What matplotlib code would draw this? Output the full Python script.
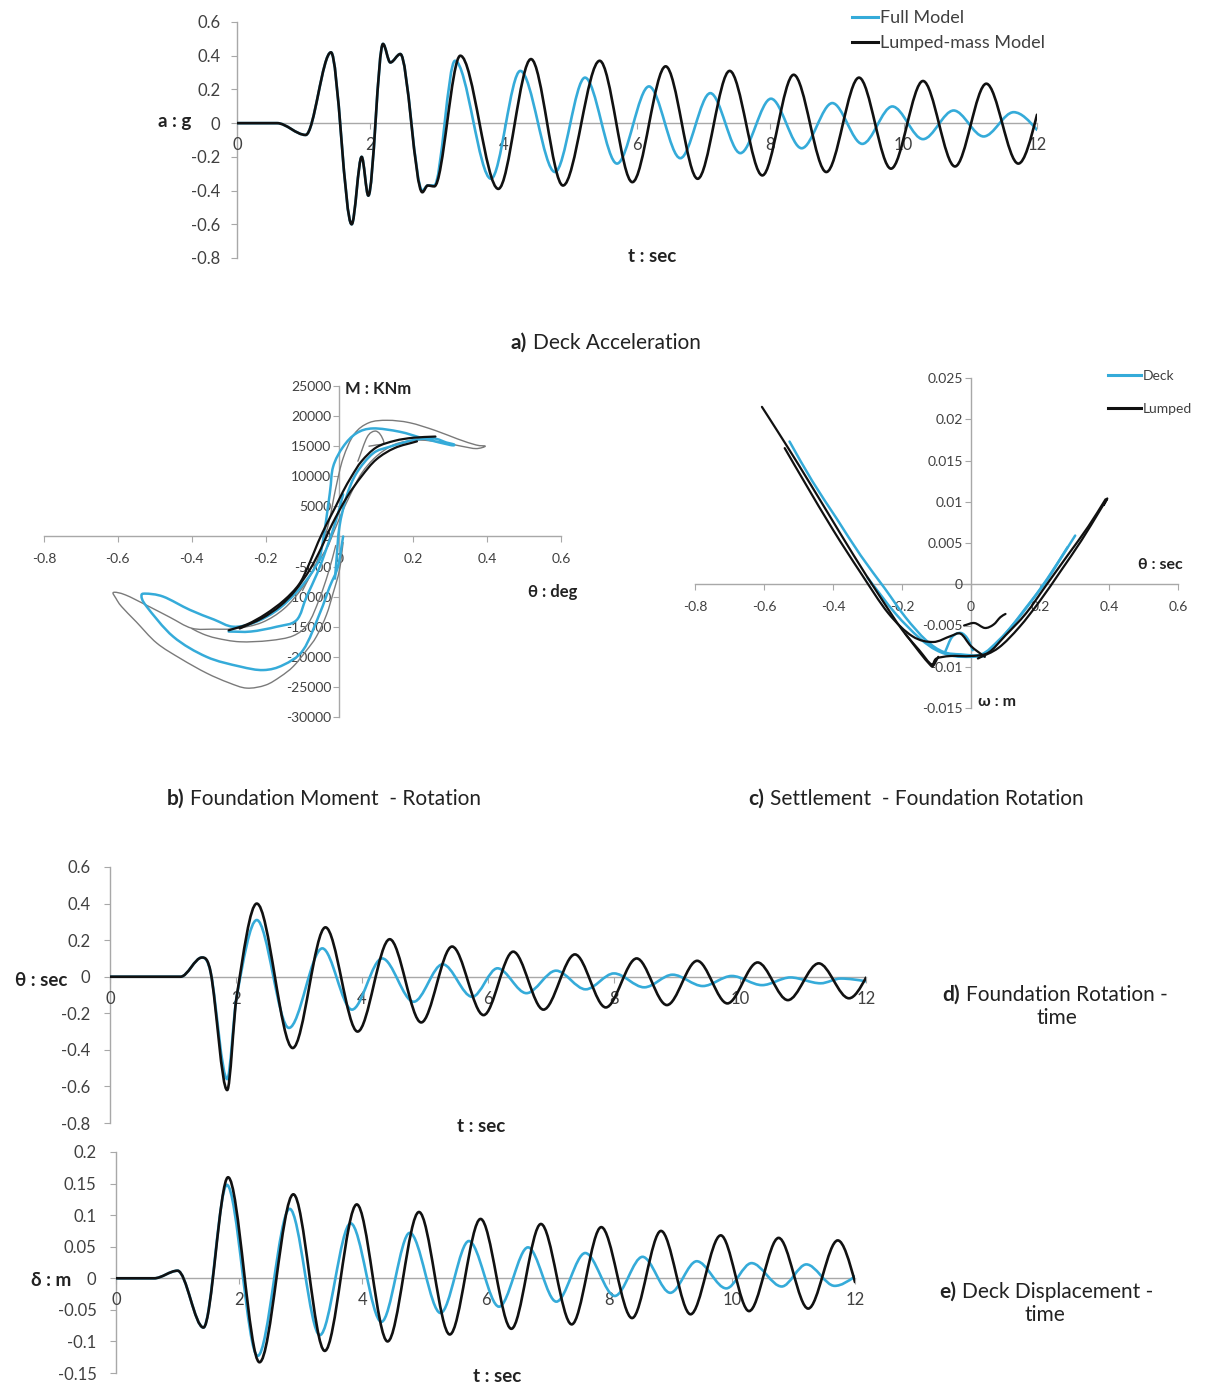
import numpy as np
import matplotlib
matplotlib.use("Agg")
import matplotlib.pyplot as plt
from matplotlib.path import Path
from matplotlib.patches import PathPatch
from matplotlib.lines import Line2D
from matplotlib.ticker import FixedLocator, FuncFormatter

# ---------------- data ----------------
# a) Deck acceleration (g) vs time (s) -- turning points of each trace
acc_lump_t = [0, 0.6, 1.03, 1.41, 1.72, 1.87, 1.97, 2.19, 2.30, 2.45, 2.78, 2.86, 2.96, 3.35, 3.92,
              4.41, 4.89, 5.44, 5.93, 6.43, 6.91, 7.39, 7.88, 8.35, 8.84, 9.33, 9.81, 10.29, 10.77,
              11.24, 11.72, 12.0]
acc_lump_v = [0, 0, -0.07, 0.42, -0.60, -0.20, -0.43, 0.47, 0.36, 0.41, -0.41, -0.37, -0.375, 0.40, -0.39,
              0.38, -0.37, 0.37, -0.35, 0.337, -0.33, 0.31, -0.31, 0.287, -0.29, 0.27, -0.27, 0.25, -0.257,
              0.234, -0.24, 0.05]
acc_full_t = [0, 0.6, 1.03, 1.41, 1.72, 1.87, 1.97, 2.19, 2.30, 2.45, 2.78, 2.86, 2.96, 3.27, 3.81,
              4.25, 4.77, 5.22, 5.70, 6.18, 6.65, 7.10, 7.55, 8.01, 8.47, 8.93, 9.38, 9.83, 10.29,
              10.75, 11.20, 11.65, 12.0]
acc_full_v = [0, 0, -0.07, 0.42, -0.60, -0.20, -0.43, 0.47, 0.36, 0.41, -0.40, -0.37, -0.37, 0.37, -0.33,
              0.31, -0.29, 0.27, -0.24, 0.218, -0.208, 0.178, -0.178, 0.145, -0.149, 0.119, -0.123, 0.099,
              -0.095, 0.075, -0.079, 0.065, -0.04]

# d) Foundation rotation vs time
rot_lump_t = [0, 1.12, 1.46, 1.60, 1.86, 2.01, 2.33, 2.90, 3.42, 3.93, 4.44, 4.94, 5.43, 5.93, 6.40, 6.88,
              7.38, 7.87, 8.36, 8.84, 9.32, 9.80, 10.28, 10.76, 11.25, 11.73, 12.0]
rot_lump_v = [0, 0, 0.105, 0.02, -0.62, -0.11, 0.40, -0.39, 0.27, -0.30, 0.205, -0.25, 0.165, -0.21, 0.137,
              -0.18, 0.122, -0.168, 0.10, -0.155, 0.087, -0.146, 0.078, -0.128, 0.073, -0.118, -0.005]
rot_full_t = [0, 1.12, 1.46, 1.60, 1.86, 2.01, 2.33, 2.84, 3.37, 3.84, 4.32, 4.82, 5.28, 5.75, 6.15, 6.61,
              7.08, 7.55, 8.00, 8.48, 8.93, 9.41, 9.87, 10.35, 10.80, 11.28, 11.60, 12.0]
rot_full_v = [0, 0, 0.105, 0.02, -0.56, -0.11, 0.31, -0.28, 0.155, -0.18, 0.10, -0.137, 0.068, -0.11, 0.046,
              -0.09, 0.033, -0.069, 0.018, -0.058, 0.011, -0.051, 0.004, -0.046, -0.004, -0.036, -0.01, -0.025]

# e) Deck displacement vs time
disp_lump_t = [0, 0.62, 1.0, 1.42, 1.82, 2.33, 2.88, 3.39, 3.91, 4.41, 4.92, 5.42, 5.92, 6.42, 6.90,
               7.40, 7.88, 8.38, 8.85, 9.33, 9.82, 10.28, 10.76, 11.24, 11.72, 12.0]
disp_lump_v = [0, 0, 0.012, -0.078, 0.16, -0.133, 0.133, -0.115, 0.117, -0.10, 0.105, -0.089, 0.094, -0.08,
               0.086, -0.073, 0.081, -0.063, 0.075, -0.057, 0.068, -0.052, 0.064, -0.048, 0.060, -0.006]
disp_full_t = [0, 0.62, 1.0, 1.42, 1.80, 2.30, 2.82, 3.31, 3.81, 4.31, 4.77, 5.27, 5.73, 6.22, 6.69,
               7.15, 7.62, 8.10, 8.55, 9.00, 9.43, 9.91, 10.32, 10.81, 11.21, 11.67, 12.0]
disp_full_v = [0, 0, 0.012, -0.078, 0.148, -0.123, 0.11, -0.09, 0.087, -0.069, 0.072, -0.055, 0.059, -0.045,
               0.049, -0.037, 0.04, -0.028, 0.034, -0.023, 0.027, -0.016, 0.024, -0.013, 0.022, -0.012, 0.003]

# b) Foundation moment (kNm) vs rotation (deg)
mom_thin_upper_th = [-0.10, -0.06, -0.03, -0.01, 0.01, 0.04, 0.08, 0.13, 0.19, 0.26, 0.32, 0.37, 0.395,
                     0.37, 0.33, 0.27, 0.21, 0.15, 0.10, 0.06, 0.03, 0.0, -0.03]
mom_thin_upper_M = [-9000, -4000, 2000, 8000, 13000, 17000, 18900, 19300, 18900, 17600, 16200, 15200, 15000,
                    14600, 15000, 15700, 16000, 15300, 13300, 10500, 7000, 3000, -1500]
mom_thin_lower_th = [-0.03, -0.06, -0.10, -0.15, -0.21, -0.28, -0.34, -0.40, -0.46, -0.52, -0.58, -0.612,
                     -0.605, -0.59, -0.55, -0.495, -0.43, -0.36, -0.30, -0.251, -0.20, -0.16, -0.125, -0.09,
                     -0.062, -0.035, -0.017, 0.0, 0.01]
mom_thin_lower_M = [-1500, -4500, -8500, -12000, -14300, -15300, -15400, -15250, -13400, -11500, -9700, -9300,
                    -10300, -11650, -14200, -17700, -20300, -22700, -24300, -25200, -24700, -23300, -21600,
                    -19000, -16600, -13000, -9400, -5600, -1000]
mom_thin_mid_th = [-0.40, -0.37, -0.333, -0.27, -0.19, -0.125, -0.085, -0.055, -0.03, -0.01]
mom_thin_mid_M = [-15300, -16200, -16900, -17500, -17300, -16500, -14500, -10500, -6000, -1500]
mom_thin_tri_th = [0.05, 0.075, 0.095, 0.11, 0.12, 0.10, 0.08]
mom_thin_tri_M = [12500, 16500, 17500, 17000, 15500, 15200, 15000]

mom_blue_left_th = [0.01, -0.004, -0.026, -0.053, -0.098, -0.152, -0.206, -0.27, -0.36, -0.45, -0.522,
                    -0.536, -0.525, -0.477, -0.405, -0.34, -0.288, -0.23, -0.17, -0.12, -0.08, -0.05]
mom_blue_left_M = [0, -5000, -8300, -12750, -18850, -21350, -22200, -21600, -20000, -16650, -11650,
                   -9900, -9500, -10000, -12200, -13800, -15000, -14300, -12300, -9500, -6500, -3500]
mom_blue_inner_th = [-0.30, -0.24, -0.17, -0.116, -0.089, -0.06, -0.035, -0.01, 0.01]
mom_blue_inner_M = [-15800, -15800, -15000, -13900, -10000, -6100, -2000, 2500, 7000]
mom_blue_upper_th = [-0.055, -0.044, -0.026, -0.017, 0.01, 0.046, 0.091, 0.163, 0.227, 0.30, 0.31, 0.29,
                     0.254, 0.20, 0.136, 0.091, 0.046, 0.019, 0.0, -0.008, -0.012]
mom_blue_upper_M = [-4000, -600, 7200, 11600, 14900, 17150, 17950, 17400, 16300, 15200, 15300, 15600,
                    16300, 16000, 14900, 13800, 10500, 6600, 1600, -3900, -7000]

mom_black_th = [-0.30, -0.25, -0.20, -0.15, -0.11, -0.085, -0.058, -0.035, -0.01, 0.01, 0.033, 0.06, 0.10,
                0.15, 0.20, 0.26]
mom_black_M = [-15600, -14600, -12900, -10600, -8000, -5000, -1000, 2000, 5000, 7500, 10000, 12500, 14800,
               15900, 16400, 16600]
mom_black2_th = [-0.27, -0.21, -0.16, -0.12, -0.08, -0.05, -0.02, 0.02, 0.06, 0.10, 0.15, 0.21]
mom_black2_M = [-15300, -13600, -11500, -9000, -5500, -2000, 2000, 6500, 10000, 12800, 14700, 15800]

# c) Settlement (m) vs foundation rotation
set_lump1_th = [-0.606, -0.56, -0.50, -0.42, -0.34, -0.27, -0.20, -0.15, -0.115, -0.10, -0.06, 0.0, 0.05,
                0.10, 0.16, 0.22, 0.28, 0.34, 0.39]
set_lump1_w = [0.0215, 0.0185, 0.0145, 0.0090, 0.0035, -0.0011, -0.0055, -0.0080, -0.0097, -0.0090, -0.0087,
               -0.0087, -0.0083, -0.0062, -0.0035, 0.0, 0.0035, 0.0070, 0.0103]
set_lump2_th = [-0.54, -0.48, -0.40, -0.32, -0.24, -0.17, -0.11, -0.06, -0.03, 0.0, 0.04]
set_lump2_w = [0.0165, 0.0122, 0.0066, 0.0014, -0.0035, -0.0063, -0.0070, -0.0063, -0.0060, -0.0075, -0.0088]
set_lump3_th = [0.02, 0.08, 0.14, 0.20, 0.26, 0.32, 0.37, 0.395, 0.385]
set_lump3_w = [-0.0090, -0.0077, -0.0052, -0.0020, 0.0016, 0.0053, 0.0087, 0.0104, 0.0096]
set_lump4_th = [-0.02, 0.01, 0.04, 0.065, 0.085, 0.10]
set_lump4_w = [-0.0050, -0.0047, -0.0053, -0.0049, -0.0040, -0.0036]
set_lump5_th = [-0.19, -0.15, -0.12, -0.11, -0.095]
set_lump5_w = [-0.0060, -0.0082, -0.0097, -0.0099, -0.0088]

set_deck1_th = [-0.526, -0.46, -0.39, -0.32, -0.25, -0.19, -0.13, -0.08, -0.03, 0.03, 0.08, 0.13, 0.19,
                0.25, 0.302]
set_deck1_w = [0.0173, 0.0125, 0.0080, 0.0035, -0.0005, -0.0040, -0.0068, -0.0082, -0.0085, -0.0085, -0.0068,
               -0.0045, -0.0012, 0.0025, 0.0059]
set_deck2_th = [-0.30, -0.22, -0.15, -0.10, -0.05, 0.0, 0.04]
set_deck2_w = [0.0008, -0.0035, -0.0065, -0.0080, -0.0087, -0.0088, -0.0087]
set_deck3_th = [-0.075, -0.055, -0.03, -0.01, 0.005]
set_deck3_w = [-0.0082, -0.0064, -0.0059, -0.0066, -0.0080]
set_deck4_th = [0.05, 0.10, 0.16, 0.22, 0.28]
set_deck4_w = [-0.0082, -0.0060, -0.0028, 0.0005, 0.0045]

# tick values
time_ticks = [0, 2, 4, 6, 8, 10, 12]
acc_ticks = [-0.8, -0.6, -0.4, -0.2, 0, 0.2, 0.4, 0.6]
theta_ticks = [-0.8, -0.6, -0.4, -0.2, 0, 0.2, 0.4, 0.6]
moment_ticks = [-30000, -25000, -20000, -15000, -10000, -5000, 0, 5000, 10000, 15000, 20000, 25000]
settle_ticks = [-0.015, -0.01, -0.005, 0, 0.005, 0.01, 0.015, 0.02, 0.025]
rot_ticks = [-0.8, -0.6, -0.4, -0.2, 0, 0.2, 0.4, 0.6]
disp_ticks = [-0.15, -0.1, -0.05, 0, 0.05, 0.1, 0.15, 0.2]

# ---------------- styling ----------------
plt.rcParams['font.family'] = ['Lato', 'DejaVu Sans']
plt.rcParams['axes.unicode_minus'] = False

W, H = 1207, 1389
fig = plt.figure(figsize=(W / 100, H / 100), dpi=100)

BLUE = '#35abd9'
BLACK = '#111111'
GRAY = '#7a7a7a'
AXC = '#a8a8a8'
TXT = '#404040'
CAP = 15


def box(x0, y0, x1, y1):
    return [x0 / W, 1 - y1 / H, (x1 - x0) / W, (y1 - y0) / H]


def ftext(x, y, s, **kw):
    kw.setdefault('ha', 'center')
    kw.setdefault('va', 'center')
    kw.setdefault('color', '#222222')
    fig.text(x / W, 1 - y / H, s, **kw)


def hermite_path(t, v):
    t = np.asarray(t, float)
    v = np.asarray(v, float)
    n = len(t)
    m = np.zeros(n)
    for i in range(1, n - 1):
        if (v[i] - v[i - 1]) * (v[i + 1] - v[i]) > 0:
            m[i] = (v[i + 1] - v[i - 1]) / (t[i + 1] - t[i - 1])
    m[-1] = 1.5 * (v[-1] - v[-2]) / (t[-1] - t[-2])
    verts = [(t[0], v[0])]
    codes = [Path.MOVETO]
    for i in range(n - 1):
        dt = t[i + 1] - t[i]
        verts += [(t[i] + dt / 3, v[i] + m[i] * dt / 3),
                  (t[i + 1] - dt / 3, v[i + 1] - m[i + 1] * dt / 3),
                  (t[i + 1], v[i + 1])]
        codes += [Path.CURVE4] * 3
    return Path(verts, codes)


def curve_path(x, y):
    P = np.column_stack([x, y]).astype(float)
    n = len(P)
    T = np.zeros_like(P)
    T[1:-1] = (P[2:] - P[:-2]) / 2
    T[0] = P[1] - P[0]
    T[-1] = P[-1] - P[-2]
    verts = [tuple(P[0])]
    codes = [Path.MOVETO]
    for i in range(n - 1):
        verts += [tuple(P[i] + T[i] / 3), tuple(P[i + 1] - T[i + 1] / 3), tuple(P[i + 1])]
        codes += [Path.CURVE4] * 3
    return Path(verts, codes)


def draw(ax, path, color, lw, z=3):
    ax.add_patch(PathPatch(path, fill=False, edgecolor=color, lw=lw, zorder=z,
                           capstyle='round', joinstyle='round'))


fmt = FuncFormatter(lambda val, pos: f'{val:g}')


def setup(ax, xlim, ylim, xticks, yticks, yaxis_at=None, size=10, ypad=2, xpad=8):
    ax.set_xlim(*xlim)
    ax.set_ylim(*ylim)
    for s in ['top', 'right']:
        ax.spines[s].set_visible(False)
    ax.spines['bottom'].set_position(('data', 0))
    if yaxis_at is not None:
        ax.spines['left'].set_position(('data', yaxis_at))
    for s in ['bottom', 'left']:
        ax.spines[s].set_color(AXC)
        ax.spines[s].set_linewidth(1.0)
        ax.spines[s].set_zorder(1)
    ax.xaxis.set_major_locator(FixedLocator(xticks))
    ax.yaxis.set_major_locator(FixedLocator(yticks))
    ax.xaxis.set_major_formatter(fmt)
    ax.yaxis.set_major_formatter(fmt)
    ax.tick_params(axis='x', length=4, pad=xpad, color=AXC, labelcolor=TXT, labelsize=size)
    ax.tick_params(axis='y', length=4, pad=ypad, color=AXC, labelcolor=TXT, labelsize=size)
    ax.patch.set_alpha(0)


# ---------------- a) deck acceleration ----------------
axa = fig.add_axes(box(237, 22, 1037, 258))
setup(axa, (0, 12), (-0.8, 0.6), time_ticks, acc_ticks, size=12, ypad=8, xpad=6)
draw(axa, hermite_path(acc_full_t, acc_full_v), BLUE, 1.9)
draw(axa, hermite_path(acc_lump_t, acc_lump_v), BLACK, 1.9, z=4)
axa.legend([Line2D([], [], color=BLUE, lw=2.2), Line2D([], [], color=BLACK, lw=2.2)],
           ['Full Model', 'Lumped-mass Model'], loc='upper left',
           bbox_to_anchor=(852 / W, 1 - 10 / H), bbox_transform=fig.transFigure, frameon=False,
           fontsize=13, handlelength=1.45, handletextpad=0.08, labelspacing=0.5,
           borderpad=0, borderaxespad=0, labelcolor=TXT)
ftext(175, 122, 'a : g', weight='bold', size=13.5)
ftext(652, 257, 't : sec', weight='bold', size=13.5)
ftext(527, 343, 'a)', ha='right', weight='bold', size=CAP)
ftext(533, 343, 'Deck Acceleration', ha='left', size=CAP)

# ---------------- b) moment-rotation ----------------
axb = fig.add_axes(box(44, 386, 561, 717))
setup(axb, (-0.8, 0.6), (-30000, 25000), theta_ticks, moment_ticks, yaxis_at=0)
for th, M in [(mom_thin_upper_th, mom_thin_upper_M), (mom_thin_lower_th, mom_thin_lower_M),
              (mom_thin_mid_th, mom_thin_mid_M), (mom_thin_tri_th, mom_thin_tri_M)]:
    draw(axb, curve_path(th, M), GRAY, 1.0)
for th, M in [(mom_blue_left_th, mom_blue_left_M), (mom_blue_inner_th, mom_blue_inner_M),
              (mom_blue_upper_th, mom_blue_upper_M)]:
    draw(axb, curve_path(th, M), BLUE, 1.8, z=4)
for th, M in [(mom_black_th, mom_black_M), (mom_black2_th, mom_black2_M)]:
    draw(axb, curve_path(th, M), BLACK, 1.6, z=5)
ftext(378, 389, 'M : KNm', weight='bold', size=12)
ftext(553, 592, 'θ : deg', weight='bold', size=12)
ftext(184, 799, 'b)', ha='right', weight='bold', size=CAP)
ftext(190, 799, 'Foundation Moment  - Rotation', ha='left', size=CAP)

# ---------------- c) settlement-rotation ----------------
axc = fig.add_axes(box(695, 378, 1178, 708))
setup(axc, (-0.8, 0.6), (-0.015, 0.025), rot_ticks, settle_ticks, yaxis_at=0)
for th, w in [(set_deck1_th, set_deck1_w), (set_deck2_th, set_deck2_w),
              (set_deck3_th, set_deck3_w), (set_deck4_th, set_deck4_w)]:
    draw(axc, curve_path(th, w), BLUE, 1.8)
for th, w in [(set_lump1_th, set_lump1_w), (set_lump2_th, set_lump2_w), (set_lump3_th, set_lump3_w),
              (set_lump4_th, set_lump4_w), (set_lump5_th, set_lump5_w)]:
    draw(axc, curve_path(th, w), BLACK, 1.6, z=4)
axc.legend([Line2D([], [], color=BLUE, lw=2.2), Line2D([], [], color=BLACK, lw=2.2)],
           ['Deck', 'Lumped'], loc='upper left',
           bbox_to_anchor=(1108 / W, 1 - 370 / H), bbox_transform=fig.transFigure, frameon=False,
           fontsize=10, handlelength=2.4, handletextpad=0.1, labelspacing=1.52,
           borderpad=0, borderaxespad=0, labelcolor=TXT)
ftext(1160, 565, 'θ : sec', weight='bold', size=11.5)
ftext(997, 702, 'ω : m', weight='bold', size=11.5)
ftext(764, 799, 'c)', ha='right', weight='bold', size=CAP)
ftext(770, 799, 'Settlement  - Foundation Rotation', ha='left', size=CAP)

# ---------------- d) foundation rotation - time ----------------
axd = fig.add_axes(box(110, 867, 866, 1123))
setup(axd, (0, 12), (-0.8, 0.6), time_ticks, rot_ticks, size=12, ypad=10, xpad=6)
draw(axd, hermite_path(rot_full_t, rot_full_v), BLUE, 1.9)
draw(axd, hermite_path(rot_lump_t, rot_lump_v), BLACK, 1.9, z=4)
ftext(41, 980, 'θ : sec', weight='bold', size=13.5)
ftext(481, 1126, 't : sec', weight='bold', size=13.5)
ftext(960, 995, 'd)', ha='right', weight='bold', size=CAP)
ftext(966, 995, 'Foundation Rotation -', ha='left', size=CAP)
ftext(1057, 1018, 'time', size=CAP)

# ---------------- e) deck displacement - time ----------------
axe = fig.add_axes(box(116, 1152, 855, 1373))
setup(axe, (0, 12), (-0.15, 0.2), time_ticks, disp_ticks, size=12, ypad=10, xpad=6)
draw(axe, hermite_path(disp_full_t, disp_full_v), BLUE, 1.9)
draw(axe, hermite_path(disp_lump_t, disp_lump_v), BLACK, 1.9, z=4)
ftext(51, 1280, 'δ : m', weight='bold', size=13.5)
ftext(497, 1377, 't : sec', weight='bold', size=13.5)
ftext(956, 1292, 'e)', ha='right', weight='bold', size=CAP)
ftext(962, 1292, 'Deck Displacement -', ha='left', size=CAP)
ftext(1045, 1315, 'time', size=CAP)

fig.savefig('out.png', dpi=100, facecolor='white')
